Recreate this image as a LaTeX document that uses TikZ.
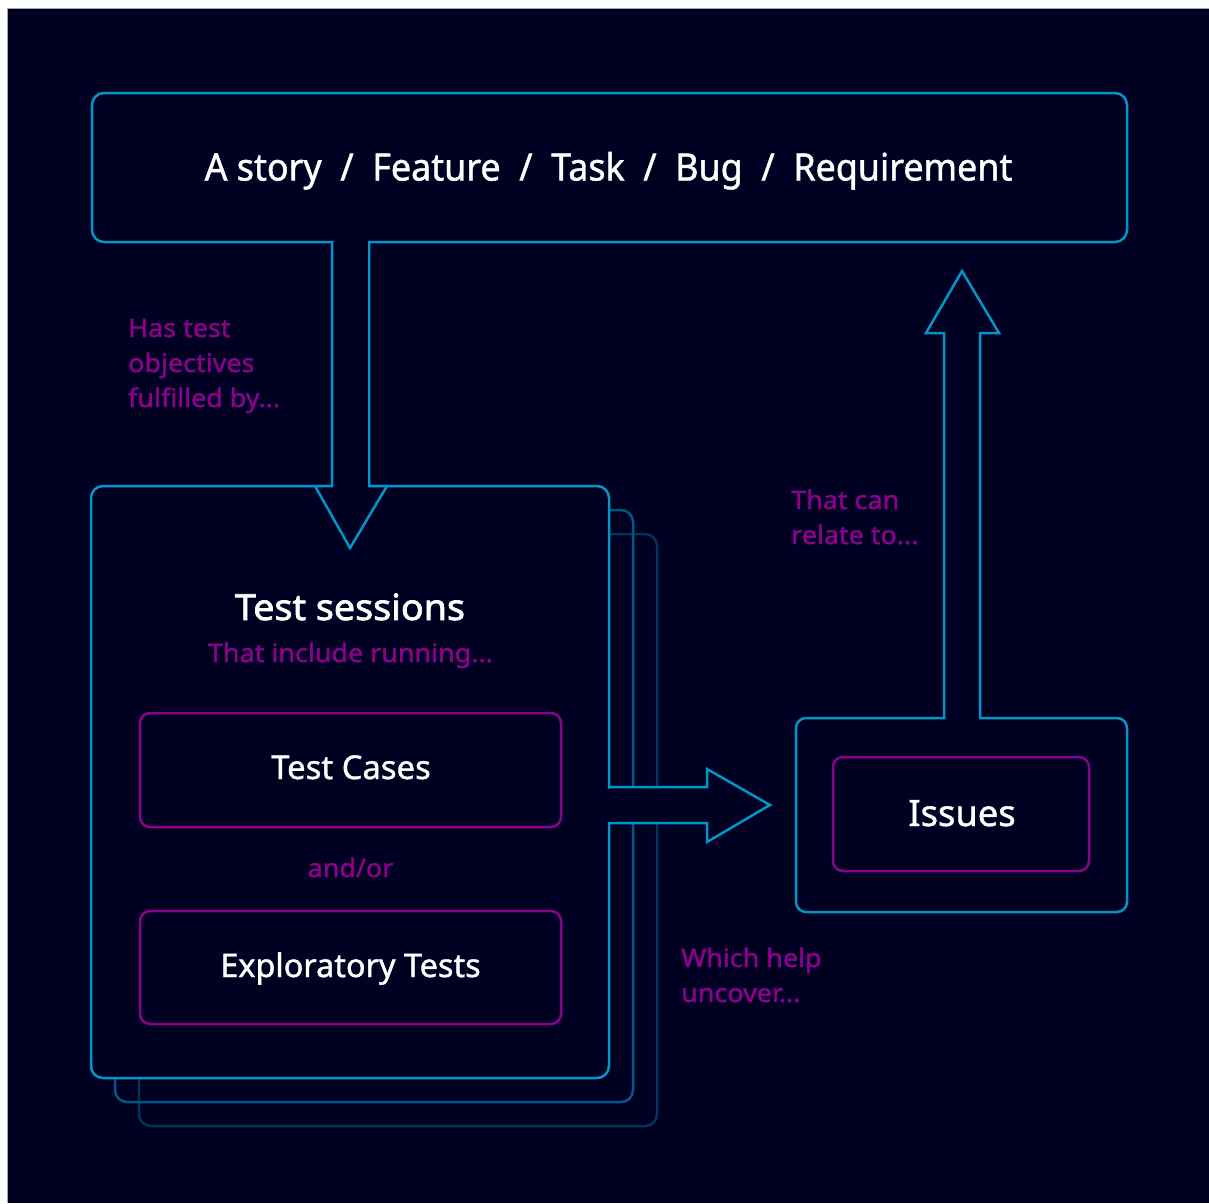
\documentclass[tikz,border=0pt]{standalone}
\usepackage{fontspec}
\setmainfont{Noto Sans}
\newfontfamily\titlefont[FakeBold=1.2, FakeStretch=0.948]{Noto Sans}
\newfontfamily\medfont[FakeBold=1.2]{Noto Sans}
\newfontfamily\semifont[FakeBold=2.0, FakeStretch=1.046]{Noto Sans}
\newfontfamily\magfont[FakeBold=1.5, FakeStretch=1.055]{Noto Sans}
\usetikzlibrary{calc}
\definecolor{bg}{RGB}{0,0,34}
\definecolor{cblue}{RGB}{0,150,200}
\definecolor{cmag}{RGB}{140,0,140}
\definecolor{fr2}{RGB}{0,88,138}
\definecolor{fr3}{RGB}{0,52,92}
\tikzset{
  bluebox/.style={draw=cblue, line width=2.5, fill=bg, rounded corners=12, inner sep=0, outer sep=0},
  framebox/.style={line width=2.5, rounded corners=12, inner sep=0, outer sep=0},
  magbox/.style={draw=cmag, line width=2.5, fill=bg, rounded corners=10, inner sep=0, outer sep=0},
  arrowshape/.style={draw=cblue, line width=2.5, fill=bg, line join=miter},
  whitetxt/.style={text=white, inner sep=0, anchor=base},
  magtxt/.style={text=cmag, inner sep=0, anchor=base west, font=\magfont\fontsize{25.5}{30}\selectfont},
  magctr/.style={text=cmag, inner sep=0, anchor=base, font=\magfont\fontsize{25.5}{30}\selectfont},
}
\begin{document}
\begin{tikzpicture}[x=1pt,y=-1pt]
\useasboundingbox (0,0) rectangle (1209,1203);
\fill[white] (0,0) rectangle (1209,1203);
\fill[bg] (8,9) rectangle (1209,1203);
\draw[gray!70, line width=1] (7.5,1203) -- (7.5,8.5) -- (1209,8.5);

% top box
\node[bluebox, minimum width=1035, minimum height=149] (story) at (609.5,167.5) {};
\node[whitetxt, font=\titlefont\fontsize{37.8}{40}\selectfont] (storyt) at (608.5,180.5) {A story\ \ /\ \ Feature\ \ /\ \ Task\ \ /\ \ Bug\ \ /\ \ Requirement};

% stacked frames
\node[framebox, draw=fr3, minimum width=518, minimum height=592] (f3) at (398,830) {};
\node[framebox, draw=fr2, minimum width=518, minimum height=592] (f2) at (374,806) {};
\node[bluebox, minimum width=518, minimum height=592] (sess) at (350,782) {};

% issues
\node[bluebox, rounded corners=10, minimum width=331, minimum height=194] (iss) at (961.5,815) {};
\node[magbox, minimum width=256, minimum height=114] (issin) at (961,814) {};
\node[whitetxt, font=\medfont\fontsize{36.3}{40}\selectfont] (isst) at (962,826) {Issues};

% arrow guide coordinates
\coordinate (dL) at (332,0);
\coordinate (dR) at (369,0);
\coordinate (dHL) at (315,0);
\coordinate (dHR) at (387,0);
\coordinate (dTip) at (350,548);
\coordinate (rT) at (0,787);
\coordinate (rB) at (0,823);
\coordinate (rHx) at (707,0);
\coordinate (rHT) at (0,769);
\coordinate (rHB) at (0,842);
\coordinate (rTip) at (770,805);
\coordinate (uL) at (944,0);
\coordinate (uR) at (980,0);
\coordinate (uHL) at (926,0);
\coordinate (uHR) at (999,0);
\coordinate (uHy) at (0,333);
\coordinate (uTip) at (962,271);

% down arrow: story -> sessions
\draw[arrowshape] (dL |- story.south) -- (dL |- sess.north) -- (dHL |- sess.north) -- (dTip)
  -- (dHR |- sess.north) -- (dR |- sess.north) -- (dR |- story.south);
\fill[bg] ($(dL |- story.south)+(1.5,-2)$) rectangle ($(dR |- sess.north)+(-1.5,2)$);

% right arrow: sessions -> issues
\draw[arrowshape] (sess.east |- rT) -- (rHx |- rT) -- (rHx |- rHT) -- (rTip)
  -- (rHx |- rHB) -- (rHx |- rB) -- (sess.east |- rB);
\fill[bg] ($(sess.east |- rT)+(-2,1.5)$) rectangle ($(sess.east |- rB)+(2,-1.5)$);

% up arrow: issues -> story
\draw[arrowshape] (uL |- iss.north) -- (uL |- uHy) -- (uHL |- uHy) -- (uTip)
  -- (uHR |- uHy) -- (uR |- uHy) -- (uR |- iss.north);
\fill[bg] ($(uL |- iss.north)+(1.5,2)$) rectangle ($(uR |- iss.north)+(-1.5,-2)$);

% session contents
\node[whitetxt, font=\semifont\fontsize{36}{40}\selectfont] (sesst) at (350,620) {Test sessions};
\node[magctr] (incl) at (350.5,662) {That include running...};
\node[magbox, minimum width=421, minimum height=114] (tc) at (350.5,770) {};
\node[whitetxt, font=\medfont\fontsize{32.8}{36}\selectfont] (tct) at (351,779) {Test Cases};
\node[magctr] (andor) at (350.5,877) {and/or};
\node[magbox, minimum width=421, minimum height=113] (et) at (350.5,967.5) {};
\node[whitetxt, font=\medfont\fontsize{32.4}{36}\selectfont] (ett) at (350.5,977) {Exploratory Tests};

% side labels
\node[magtxt] (l1a) at (128,337) {Has test};
\node[magtxt] (l1b) at (128,372) {objectives};
\node[magtxt] (l1c) at (128,407) {fulfilled by...};
\node[magtxt] (l2a) at (791,509) {That can};
\node[magtxt] (l2b) at (791,544) {relate to...};
\node[magtxt] (l3a) at (681,967) {Which help};
\node[magtxt] (l3b) at (681,1002) {uncover...};
\end{tikzpicture}
\end{document}
